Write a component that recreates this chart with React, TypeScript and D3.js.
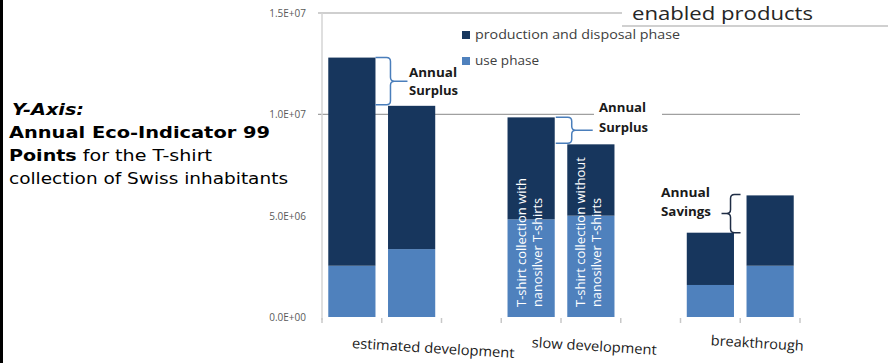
import React from "react";
import * as d3 from "d3";

const groups = ["estimated development", "slow development", "breakthrough"];
const variants = ["with nanosilver T-shirts", "without nanosilver T-shirts"];
const slots = ["est-with", "est-without", "gap1", "slow-with", "slow-without", "gap2", "break-with", "break-without"];
const barSlots = ["est-with", "est-without", "slow-with", "slow-without", "break-with", "break-without"];
const usePhase = [2.53e6, 3.35e6, 4.82e6, 5.0e6, 1.58e6, 2.53e6];
const productionPhase = [10.27e6, 7.07e6, 5.03e6, 3.52e6, 2.58e6, 3.47e6];
const yTicks = [0, 5e6, 1e7, 1.5e7];
const yTickLabels = ["0.0E+00", "5.0E+06", "1.0E+07", "1.5E+07"];
const seriesNames = ["production and disposal phase", "use phase"];

const W = 888;
const H = 363;
const DARK = "#17365d";
const LIGHT = "#4f81bd";
const F = "'Open Sans', sans-serif";

function bracePath(x0: number, xm: number, xt: number, y1: number, y2: number) {
  const ym = (y1 + y2) / 2;
  const s = Math.sign(xm - x0);
  const r = 4;
  return `M${x0},${y1} L${xm - s * r},${y1} Q${xm},${y1} ${xm},${y1 + r} L${xm},${ym - r} Q${xm},${ym} ${xm + s * r},${ym} L${xt},${ym} M${xm + s * r},${ym} Q${xm},${ym} ${xm},${ym + r} L${xm},${y2 - r} Q${xm},${y2} ${xm - s * r},${y2} L${x0},${y2}`;
}

export default function App() {
  const x = d3.scaleBand<string>().domain(slots).range([322, 800]).padding(0);
  const y = d3.scaleLinear().domain([0, 1.5e7]).range([317, 13]);
  const bw = x.bandwidth() * 0.79;
  const barX = (i: number) => (x(barSlots[i]) as number) + (x.bandwidth() - bw) / 2;
  const total = (i: number) => usePhase[i] + productionPhase[i];

  const b1 = barX(0) + bw;
  const b3 = barX(2) + bw;
  const b6 = barX(5);

  const catLabels = [
    { t: groups[0], cx: 433, cy: 353, w: 163 },
    { t: groups[1], cx: 594, cy: 351, w: 125 },
    { t: groups[2], cx: 757, cy: 348, w: 93 },
  ];

  return (
    <svg width={W} height={H} style={{ position: "absolute", left: 0, top: 0, background: "#fff" }}>
      <rect x={0} y={0} width={W} height={H} fill="#fff" />
      <rect x={0} y={0} width={3} height={H} fill="#000" />

      {/* gridlines */}
      {yTicks.filter((t) => t >= 1e7).map((t) => (
        <line key={t} x1={318} x2={800} y1={y(t)} y2={y(t)} stroke="#a0a0a0" strokeWidth={1.2} />
      ))}
      {/* vertical axis */}
      <line x1={322} x2={322} y1={y(1.5e7)} y2={y(0) + 3} stroke="#d4d4d4" strokeWidth={1.5} />
      {/* category ticks */}
      {d3.range(slots.length + 1).map((i) => {
        const xx = 322 + i * x.bandwidth();
        return <line key={i} x1={xx} x2={xx} y1={y(0) + 1} y2={y(0) + 6} stroke="#c8c8c8" strokeWidth={1.5} />;
      })}

      {/* y labels */}
      {yTicks.map((t, i) => (
        <text key={t} x={306} y={y(t) + 4} textAnchor="end" fontFamily={F} fontSize={10} fill="#595959">
          {yTickLabels[i]}
        </text>
      ))}

      {/* bars */}
      {barSlots.map((s, i) => (
        <g key={s}>
          <rect x={barX(i)} width={bw} y={y(usePhase[i])} height={y(0) - y(usePhase[i])} fill={LIGHT} />
          <rect x={barX(i)} width={bw} y={y(total(i))} height={y(usePhase[i]) - y(total(i))} fill={DARK} />
        </g>
      ))}

      {/* bar labels */}
      {[2, 3].map((i, k) => {
        const lines = k === 0 ? ["T-shirt collection with", "nanosilver T-shirts"] : ["T-shirt collection without", "nanosilver T-shirts"];
        const lens = k === 0 ? [129, 109] : [150, 109];
        return lines.map((ln, j) => (
          <text
            key={`${i}-${j}`}
            transform={`translate(${barX(i) + 18 + j * 16},307) rotate(-90)`}
            fontFamily={F}
            fontSize={13}
            fill="#fff"
            textLength={lens[j]}
            lengthAdjust="spacingAndGlyphs"
          >
            {ln}
          </text>
        ));
      })}

      {/* legend */}
      {seriesNames.map((n, i) => (
        <g key={n}>
          <rect x={462} y={31 + i * 26} width={8} height={8} fill={i === 0 ? DARK : LIGHT} />
          <text x={475} y={39 + i * 26} fontFamily={F} fontSize={12.5} fill="#404040" textLength={i === 0 ? 205 : 64} lengthAdjust="spacingAndGlyphs">
            {n}
          </text>
        </g>
      ))}

      {/* braces */}
      <path d={bracePath(b1, b1 + 15, b1 + 32, y(total(0)), y(total(1)) - 1)} fill="none" stroke="#4a7ebb" strokeWidth={1.5} />
      <path d={bracePath(b3 + 1, b3 + 17, b3 + 38, y(total(2)), y(total(3)) - 1)} fill="none" stroke="#4a7ebb" strokeWidth={1.5} />
      <path d={bracePath(b6 - 6, b6 - 16, b6 - 25, y(total(5)) - 1, y(total(4)))} fill="none" stroke="#1f2d45" strokeWidth={1.5} />

      {/* annotation texts */}
      <g fontFamily={F} fontWeight="bold" fontSize={13} fill="#1a1a1a">
        <text x={409} y={77} textLength={48} lengthAdjust="spacingAndGlyphs">Annual</text>
        <text x={409} y={95} textLength={49} lengthAdjust="spacingAndGlyphs">Surplus</text>
        <rect x={594} y={102} width={68} height={16} fill="#fff" />
        <text x={599} y={112} textLength={47} lengthAdjust="spacingAndGlyphs">Annual</text>
        <text x={599} y={132} textLength={49} lengthAdjust="spacingAndGlyphs">Surplus</text>
        <text x={661} y={197} textLength={49} lengthAdjust="spacingAndGlyphs">Annual</text>
        <text x={661} y={216} textLength={50} lengthAdjust="spacingAndGlyphs">Savings</text>
      </g>

      {/* category labels */}
      {catLabels.map((c) => (
        <text key={c.t} transform={`translate(${c.cx},${c.cy}) rotate(3.5)`} textAnchor="middle" fontFamily={F} fontSize={14} fill="#1a1a1a" textLength={c.w} lengthAdjust="spacingAndGlyphs">
          {c.t}
        </text>
      ))}

      {/* title fragment box */}
      <rect x={622} y={0} width={266} height={26} fill="#fff" />
      <line x1={622} x2={888} y1={26} y2={26} stroke="#d0d0d0" strokeWidth={2} />
      <text x={632} y={20} fontFamily={F} fontSize={18} fill="#262626" textLength={181} lengthAdjust="spacingAndGlyphs">
        enabled products
      </text>

      {/* left description */}
      <g fontFamily="'DejaVu Sans', Verdana, sans-serif" fontSize={16} fill="#000">
        <text x={12} y={115} fontWeight="bold" fontStyle="italic" textLength={72} lengthAdjust="spacingAndGlyphs">Y-Axis:</text>
        <text x={9} y={138} fontWeight="bold" textLength={261} lengthAdjust="spacingAndGlyphs">Annual Eco-Indicator 99</text>
        <text x={9} y={161} textLength={203} lengthAdjust="spacingAndGlyphs">
          <tspan fontWeight="bold">Points</tspan> for the T-shirt
        </text>
        <text x={9} y={184} textLength={279} lengthAdjust="spacingAndGlyphs">collection of Swiss inhabitants</text>
      </g>
    </svg>
  );
}
